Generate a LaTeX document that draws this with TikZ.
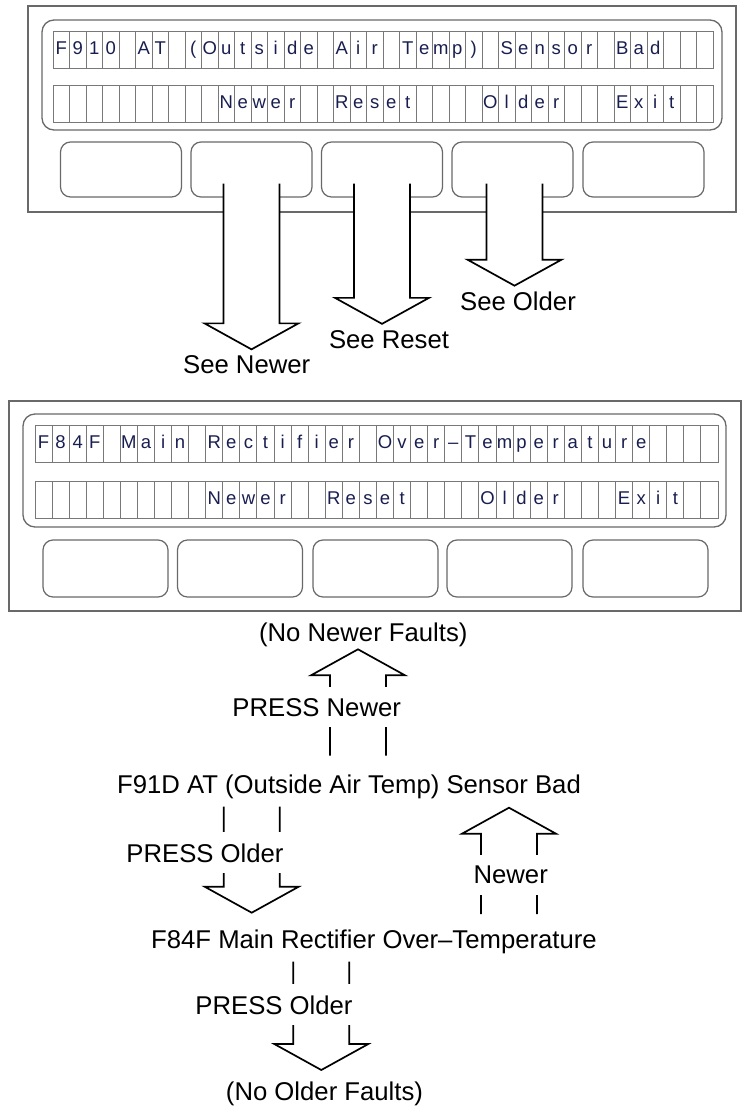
\documentclass[tikz,border=0pt]{standalone}
\usepackage{fontspec}
\setmainfont{Liberation Sans}
\usetikzlibrary{calc}
\definecolor{lcdink}{RGB}{25,30,80}
\definecolor{panelgray}{RGB}{105,105,105}
\definecolor{cellgray}{RGB}{120,120,120}

% characters shown in the 40-cell display rows ({} = blank cell)
\def\faultone{F,9,1,0,{},A,T,{},{(},O,u,t,s,i,d,e,{},A,i,r,{},T,e,m,p,{)},{},S,e,n,s,o,r,{},B,a,d}
\def\faulttwo{F,8,4,F,{},M,a,i,n,{},R,e,c,t,i,f,i,e,r,{},O,v,e,r,–,T,e,m,p,e,r,a,t,u,r,e}
\def\softkeys{{},{},{},{},{},{},{},{},{},{},N,e,w,e,r,{},{},R,e,s,e,t,{},{},{},{},O,l,d,e,r,{},{},{},E,x,i,t}

% one display row: x0, cell width, y top, character list
\newcommand{\lcdrow}[4]{%
  \begin{scope}[shift={(#1,#3)},x=#2pt]
    \draw[cellline] (0,0) rectangle (40,37);
    \foreach \i in {1,...,39} \draw[cellline] (\i,0) -- (\i,37);
    \foreach \c [count=\k from 0] in #4 \node[lcdchar] at (\k+0.5,23) {\c};
  \end{scope}}

% hollow vertical block arrow from tail to tip
\newcommand{\blockarrow}[2]{%
  \draw[blockline] let \p1=(#1), \p2=(#2), \p3=($(\x1,\y2)!26pt!(#1)$) in
    (\x1-28pt,\y1) -- (\x1-28pt,\y3) -- (\x1-47pt,\y3) -- (\x1,\y2)
    -- (\x1+47pt,\y3) -- (\x1+28pt,\y3) -- (\x1+28pt,\y1);}

\begin{document}
\begin{tikzpicture}[x=1pt,y=-1pt,
  panelline/.style={draw=panelgray,line width=1.3pt},
  cellline/.style={draw=cellgray,line width=1pt},
  lcdchar/.style={font=\fontsize{18.5}{18.5}\selectfont,text=lcdink,anchor=base,inner sep=0pt},
  keybox/.style={draw=panelgray,line width=1.2pt,rounded corners=10pt,inner sep=0pt},
  blockline/.style={draw=black,line width=1.7pt,fill=white,line join=miter},
  keylabel/.style={font=\fontsize{25.7}{30}\selectfont,anchor=base,inner sep=6pt},
  flowtext/.style={font=\fontsize{25.7}{30}\selectfont,anchor=base},
  presslabel/.style={font=\fontsize{25.7}{30}\selectfont,anchor=base,fill=white,inner xsep=6pt,inner ysep=11pt}]
\useasboundingbox (0,0) rectangle (743,1111);

% upper panel
\draw[panelline] (28,6) rectangle (736,212);
\draw[panelline,rounded corners=12pt] (42,20) rectangle (722,130);
\lcdrow{53}{16.5}{31}{\faultone}
\lcdrow{53}{16.5}{85}{\softkeys}
\foreach \n/\x in {1/121,2/251.5,3/382,4/512.5,5/643.5}
  \node[keybox,minimum width=121pt,minimum height=55pt] (ka\n) at (\x,169.5) {};

\node[keylabel] (seenewer) at (246.7,373.5) {See Newer};
\node[keylabel] (seereset) at (389,348) {See Reset};
\node[keylabel] (seeolder) at (518,310.5) {See Older};
\coordinate (tnewer) at ([yshift=14pt]ka2.south);
\coordinate (treset) at ([yshift=14pt]ka3.south);
\coordinate (tolder) at ([yshift=14pt,xshift=2pt]ka4.south);
\blockarrow{tnewer}{seenewer.north}
\blockarrow{treset}{seereset.north}
\blockarrow{tolder}{seeolder.north}

% lower panel
\draw[panelline] (9,401) rectangle (741,611);
\draw[panelline,rounded corners=12pt] (23,414) rectangle (726,527);
\lcdrow{35}{17.075}{425}{\faulttwo}
\lcdrow{35}{17.075}{481}{\softkeys}
\foreach \n/\x in {1/105.5,2/240,3/375.5,4/509.5,5/645.5}
  \node[keybox,minimum width=125pt,minimum height=57pt] (kb\n) at (\x,568.5) {};

% fault list
\node[flowtext] (nonewer) at (363.3,641.7) {(No Newer Faults)};
\node[flowtext] (faultd) at (349,793.3) {F91D AT (Outside Air Temp) Sensor Bad};
\node[flowtext] (faultf) at (374,948.3) {F84F Main Rectifier Over–Temperature};
\node[flowtext] (noolder) at (324.5,1100) {(No Older Faults)};

\coordinate (pn1) at (358,755.7);
\coordinate (pn2) at (358,649.3);
\blockarrow{pn1}{pn2}
\node[presslabel] (pressnewer) at (316.7,716) {PRESS Newer};

\coordinate (po1) at (251.7,806.7);
\coordinate (po2) at (251.7,912.7);
\blockarrow{po1}{po2}
\node[presslabel] (pressolder) at (205,862) {PRESS Older};

\coordinate (nw1) at (509,914);
\coordinate (nw2) at (509,807.7);
\blockarrow{nw1}{nw2}
\node[presslabel] (newer) at (510.7,883.3) {Newer};

\coordinate (pf1) at (321.3,961.7);
\coordinate (pf2) at (321.3,1070);
\blockarrow{pf1}{pf2}
\node[presslabel] (pressolderb) at (274,1014) {PRESS Older};
\end{tikzpicture}
\end{document}
